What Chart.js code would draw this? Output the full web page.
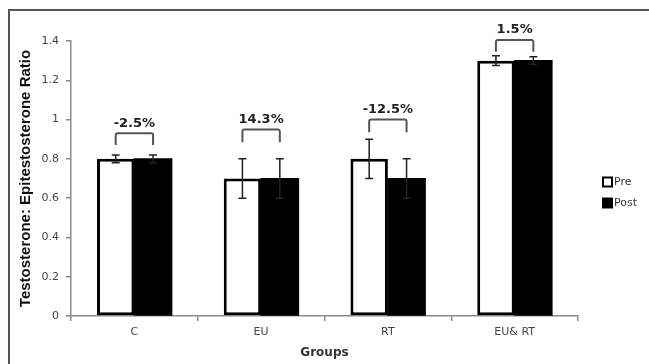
<!DOCTYPE html>
<html>
<head>
<meta charset="UTF-8">
<title>Testosterone: Epitestosterone Ratio</title>
<script src="https://cdn.jsdelivr.net/npm/chart.js@4/dist/chart.umd.min.js"></script>
<style>
    body { margin: 0; background: #fff; }
    #chart { display: block; }
</style>
</head>
<body>
<canvas id="chart" width="649" height="364"></canvas>
<script>
// values
const groups = ['C', 'EU', 'RT', 'EU& RT'];
const preValues = [0.8, 0.7, 0.8, 1.3];
const postValues = [0.8, 0.7, 0.7, 1.3];
const preErr = [0.02, 0.1, 0.1, 0.025];
const postErr = [0.02, 0.1, 0.1, 0.02];
const changeLabels = ['-2.5%', '14.3%', '-12.5%', '1.5%'];
const bracketTop = [0.93, 0.95, 1.0, 1.405];
const bracketFoot = [0.87, 0.885, 0.935, 1.345];
const yTicks = [0, 0.2, 0.4, 0.6, 0.8, 1, 1.2, 1.4];
const seriesNames = ['Pre', 'Post'];

const axisGrey = '#8a8a8a';

// outer frame (only top and left edges are inside the picture)
const framePlugin = {
    id: 'frame',
    beforeDraw(chart) {
        const ctx = chart.ctx;
        ctx.save();
        ctx.strokeStyle = '#555';
        ctx.lineWidth = 2;
        ctx.beginPath();
        ctx.moveTo(649, 10);
        ctx.lineTo(9, 10);
        ctx.lineTo(9, 364);
        ctx.stroke();
        ctx.restore();
    }
};

// error bars + change brackets
const markPlugin = {
    id: 'marks',
    afterDatasetsDraw(chart) {
        const ctx = chart.ctx;
        const y = chart.scales.y;
        const errs = [preErr, postErr];
        const vals = [preValues, postValues];
        ctx.save();
        ctx.lineWidth = 1.5;
        ctx.strokeStyle = '#222';
        [0, 1].forEach(ds => {
            chart.getDatasetMeta(ds).data.forEach((bar, i) => {
                const top = y.getPixelForValue(vals[ds][i] + errs[ds][i]);
                const bot = y.getPixelForValue(vals[ds][i] - errs[ds][i]);
                ctx.beginPath();
                ctx.moveTo(bar.x, top);
                ctx.lineTo(bar.x, bot);
                ctx.moveTo(bar.x - 4, top);
                ctx.lineTo(bar.x + 4, top);
                ctx.moveTo(bar.x - 4, bot);
                ctx.lineTo(bar.x + 4, bot);
                ctx.stroke();
            });
        });

        const preBars = chart.getDatasetMeta(0).data;
        const postBars = chart.getDatasetMeta(1).data;
        ctx.strokeStyle = '#555';
        ctx.lineWidth = 2;
        ctx.fillStyle = '#222';
        ctx.font = 'bold 13px "DejaVu Sans"';
        ctx.textAlign = 'center';
        ctx.textBaseline = 'middle';
        groups.forEach((g, i) => {
            const x1 = preBars[i].x, x2 = postBars[i].x;
            const t = y.getPixelForValue(bracketTop[i]);
            const f = y.getPixelForValue(bracketFoot[i]);
            ctx.beginPath();
            ctx.moveTo(x1, f);
            ctx.lineTo(x1, t + 2);
            ctx.quadraticCurveTo(x1, t, x1 + 2, t);
            ctx.lineTo(x2 - 2, t);
            ctx.quadraticCurveTo(x2, t, x2, t + 2);
            ctx.lineTo(x2, f);
            ctx.stroke();
            ctx.fillText(changeLabels[i], (x1 + x2) / 2, t - 10);
        });
        ctx.restore();
    }
};

// legend on the right
const legendPlugin = {
    id: 'sideLegend',
    afterDraw(chart) {
        const ctx = chart.ctx;
        ctx.save();
        ctx.font = '11px "DejaVu Sans"';
        ctx.textBaseline = 'middle';
        ctx.textAlign = 'left';
        seriesNames.forEach((name, i) => {
            const yy = 182 + i * 21;
            ctx.fillStyle = i === 0 ? '#fff' : '#000';
            ctx.fillRect(603, yy - 4.5, 9, 9);
            ctx.strokeStyle = '#000';
            ctx.lineWidth = 2;
            ctx.strokeRect(603, yy - 4.5, 9, 9);
            ctx.fillStyle = '#333';
            ctx.fillText(name, 614, yy);
        });
        ctx.restore();
    }
};

new Chart(document.getElementById('chart'), {
    type: 'bar',
    data: {
        labels: groups,
        datasets: [
            {
                label: seriesNames[0],
                data: preValues,
                backgroundColor: '#fff',
                borderColor: '#000',
                borderWidth: 3,
                borderSkipped: false,
                inflateAmount: 0
            },
            {
                label: seriesNames[1],
                data: postValues,
                backgroundColor: '#000',
                borderColor: '#000',
                borderWidth: 0,
                inflateAmount: 0.6
            }
        ]
    },
    options: {
        responsive: false,
        animation: false,
        layout: { padding: { left: 14, right: 71, top: 41, bottom: 4 } },
        datasets: { bar: { categoryPercentage: 0.59, barPercentage: 1 } },
        plugins: {
            legend: { display: false },
            tooltip: { enabled: false }
        },
        scales: {
            x: {
                grid: { drawOnChartArea: false, drawTicks: true, tickLength: 5, color: axisGrey, lineWidth: 1.5 },
                border: { color: axisGrey, width: 1.5 },
                ticks: { color: '#444', font: { family: 'DejaVu Sans', size: 11 }, padding: 5 },
                title: {
                    display: true,
                    text: 'Groups',
                    color: '#333',
                    font: { family: 'DejaVu Sans', size: 12, weight: 'bold' },
                    padding: { top: 4, bottom: 0 }
                },
                afterFit(scale) { scale.height = 44; }
            },
            y: {
                min: 0,
                max: 1.4,
                afterBuildTicks(scale) { scale.ticks = yTicks.map(v => ({ value: v })); },
                grid: { drawOnChartArea: false, drawTicks: true, tickLength: 5, color: axisGrey, lineWidth: 1.5 },
                border: { color: axisGrey, width: 1.5 },
                ticks: {
                    color: '#444',
                    font: { family: 'DejaVu Sans', size: 11 },
                    padding: 7,
                    callback: v => String(+Number(v).toFixed(1))
                },
                title: {
                    display: true,
                    text: 'Testosterone: Epitestosterone Ratio',
                    color: '#111',
                    font: { family: 'Liberation Sans', size: 15, weight: 'bold' },
                    padding: { top: 3, bottom: 0 }
                },
                afterFit(scale) { scale.width = 57; }
            }
        }
    },
    plugins: [framePlugin, markPlugin, legendPlugin]
});
</script>
</body>
</html>
